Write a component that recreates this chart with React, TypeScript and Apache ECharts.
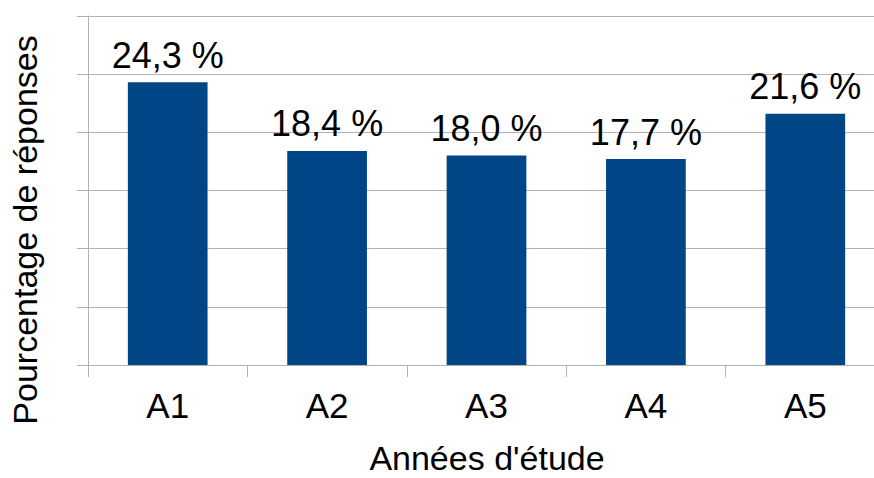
import React, { useEffect, useRef } from "react";
import * as echarts from "echarts";

const categories = ["A1", "A2", "A3", "A4", "A5"];
const values = [24.3, 18.4, 18.0, 17.7, 21.6];
const yTitle = "Pourcentage de réponses";
const xTitle = "Années d'étude";

const FONT = "'Liberation Sans', Arial, sans-serif";

export default function App() {
  const ref = useRef<HTMLDivElement>(null);
  useEffect(() => {
    if (!ref.current) return;
    const chart = echarts.init(ref.current, null, { renderer: "svg" });
    chart.setOption({
      animation: false,
      backgroundColor: "#ffffff",
      grid: { left: 88, right: 0, top: 16, bottom: 113, containLabel: false },
      xAxis: {
        type: "category",
        data: categories,
        axisLine: { show: true, lineStyle: { color: "#b3b3b3", width: 1 } },
        axisTick: { show: true, alignWithLabel: false, length: 12, lineStyle: { color: "#b3b3b3" } },
        axisLabel: { color: "#000", fontSize: 35, fontFamily: FONT, margin: 23 },
        splitLine: { show: false },
      },
      yAxis: {
        type: "value",
        min: 0,
        max: 30,
        interval: 5,
        axisLine: { show: true, lineStyle: { color: "#b3b3b3", width: 1 } },
        axisTick: { show: true, length: 11, lineStyle: { color: "#b3b3b3" } },
        axisLabel: { show: false },
        splitLine: { show: true, lineStyle: { color: "#b3b3b3", width: 1 } },
      },
      series: [
        {
          type: "bar",
          data: values,
          barWidth: "50%",
          itemStyle: { color: "#004586" },
          label: {
            show: true,
            position: "top",
            distance: 9,
            color: "#000",
            fontSize: 36,
            fontFamily: FONT,
            formatter: (p: any) => p.value.toFixed(1).replace(".", ",") + " %",
          },
        },
      ],
      graphic: [
        {
          type: "text",
          x: 25,
          y: 230,
          rotation: Math.PI / 2,
          style: {
            text: yTitle,
            fill: "#000",
            fontSize: 34,
            fontFamily: FONT,
            textAlign: "center",
            textVerticalAlign: "middle",
          },
        },
        {
          type: "text",
          x: 487,
          y: 458,
          style: {
            text: xTitle,
            fill: "#000",
            fontSize: 34,
            fontFamily: FONT,
            textAlign: "center",
            textVerticalAlign: "middle",
          },
        },
      ],
    });
    return () => chart.dispose();
  }, []);
  return (
    <div style={{ position: "fixed", left: 0, top: 0, width: 874, height: 478, overflow: "hidden" }}>
      <div ref={ref} style={{ position: "absolute", left: 0, top: 0, width: 885, height: 478 }} />
    </div>
  );
}
